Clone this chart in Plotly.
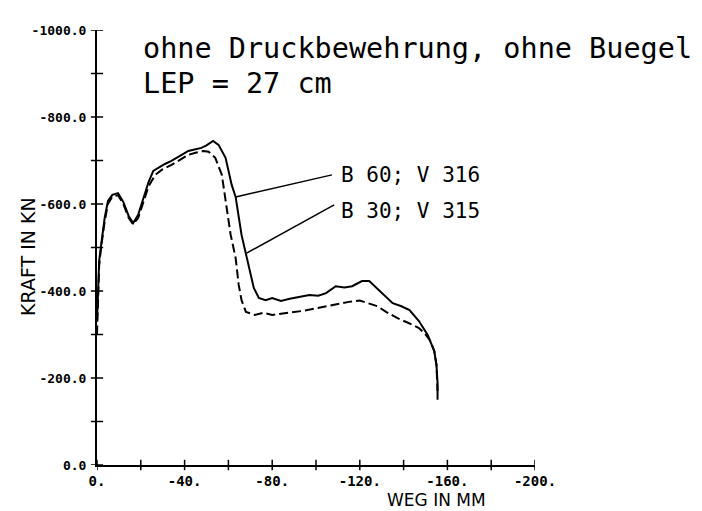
import plotly.graph_objects as go

# ---- data ----
solid_x = [0, -0.5, -1, -2, -3.5, -5, -7, -9.6, -12, -14.5, -16.5, -18.8, -21, -23.5, -25.7, -28, -31, -34, -38,
           -41.7, -45, -47.7, -50, -53, -55.5, -58.7, -61.5, -63.3, -66, -69.3, -71.6, -73.9, -77, -80, -84, -88,
           -92, -97, -101, -104.6, -109, -113, -116.5, -121, -124.3, -129, -135, -139, -142.7, -147, -151, -154,
           -155, -155.5, -155.5]
solid_y = [-330, -420, -470, -510, -568, -607, -621, -625, -605, -572, -556, -575, -610, -650, -676, -683, -692,
           -699, -712, -722, -726, -729, -735, -745, -736, -706, -644, -616, -529, -460, -407, -384, -379, -384,
           -377, -382, -386, -391, -389, -395, -411, -408, -411, -423, -423, -400, -372, -365, -356, -331, -299,
           -262, -230, -190, -150]

dash_x = [0, -0.5, -1, -2, -3.5, -5, -7, -9.6, -12, -14.5, -16.5, -18.8, -21, -23.5, -26.6, -30, -34, -38, -41.7,
          -45, -48.6, -51, -54, -57, -59.2, -61, -63.3, -64.7, -66, -68, -72, -76, -80, -85, -90, -95, -100, -105,
          -110, -115, -120, -124, -128, -132, -137, -142, -147, -150, -152, -154, -155, -155.5]
dash_y = [-300, -400, -460, -505, -560, -600, -617, -620, -600, -568, -553, -568, -600, -640, -667, -680, -690,
          -702, -713, -718, -722, -720, -706, -667, -591, -530, -476, -414, -379, -352, -345, -350, -345, -348,
          -352, -355, -360, -365, -370, -375, -378, -372, -365, -352, -338, -327, -315, -300, -287, -262, -230,
          -170]

x_tickvals = [0, -40, -80, -120, -160, -200]
x_ticktext = ["0.", "-40.", "-80.", "-120.", "-160.", "-200."]
x_minor = [0, -20, -40, -60, -80, -100, -120, -140, -160, -180, -200]
y_tickvals = [0, -200, -400, -600, -800, -1000]
y_ticktext = ["0.0", "-200.0", "-400.0", "-600.0", "-800.0", "-1000.0"]
y_minor = [0, -100, -200, -300, -400, -500, -600, -700, -800, -900, -1000]

labels = ["B 60; V 316", "B 30; V 315"]

MONO = "DejaVu Sans Mono"

fig = go.Figure()
fig.add_trace(go.Scatter(x=solid_x, y=solid_y, mode="lines", name=labels[0],
                         line=dict(color="black", width=2)))
fig.add_trace(go.Scatter(x=dash_x, y=dash_y, mode="lines", name=labels[1],
                         line=dict(color="black", width=2, dash="9px,4px")))

shapes = []
for v in x_minor:
    shapes.append(dict(type="line", xref="x", yref="paper", x0=v, x1=v, y0=-0.012, y1=0.012,
                       line=dict(color="black", width=1.5)))
for v in y_minor:
    shapes.append(dict(type="line", xref="paper", yref="y", x0=-0.014, x1=0.014, y0=v, y1=v,
                       line=dict(color="black", width=1.5)))
# leader lines
shapes.append(dict(type="line", xref="x", yref="y", x0=-63.3, y0=-616, x1=-107.3, y1=-667,
                   line=dict(color="black", width=1.5)))
shapes.append(dict(type="line", xref="x", yref="y", x0=-68.3, y0=-487, x1=-108.3, y1=-598,
                   line=dict(color="black", width=1.5)))

annotations = [
    dict(text=labels[0], x=-110.5, y=-667, xref="x", yref="y", xanchor="left", yanchor="middle",
         showarrow=False, font=dict(family=MONO, size=21, color="black")),
    dict(text=labels[1], x=-110.5, y=-584, xref="x", yref="y", xanchor="left", yanchor="middle",
         showarrow=False, font=dict(family=MONO, size=21, color="black")),
    dict(text="ohne Druckbewehrung, ohne Buegel", x=0.1, y=0.958, xref="paper", yref="paper",
         xanchor="left", yanchor="middle", showarrow=False, font=dict(family=MONO, size=28.5, color="black")),
    dict(text="LEP = 27 cm", x=0.1, y=0.878, xref="paper", yref="paper",
         xanchor="left", yanchor="middle", showarrow=False, font=dict(family=MONO, size=28.5, color="black")),
    dict(text="WEG IN MM", x=0.774, y=-0.108, xref="paper", yref="paper",
         xanchor="center", yanchor="bottom", showarrow=False,
         font=dict(family="DejaVu Sans", size=17, color="black")),
    dict(text="KRAFT IN KN", x=-0.158, y=0.48, xref="paper", yref="paper", textangle=-90,
         xanchor="center", yanchor="middle", showarrow=False,
         font=dict(family="DejaVu Sans", size=19, color="black")),
]

fig.update_layout(
    width=702, height=511,
    margin=dict(l=89, r=175, t=22, b=54),
    paper_bgcolor="white", plot_bgcolor="white",
    showlegend=False,
    shapes=shapes, annotations=annotations,
    xaxis=dict(range=[0, -200], showgrid=False, zeroline=False, showline=True, linecolor="black",
               linewidth=2, ticks="", tickvals=x_tickvals, ticktext=x_ticktext,
               tickfont=dict(family=MONO, size=14, color="black", weight="bold"), ticklabelstandoff=2),
    yaxis=dict(range=[0, -1000], showgrid=False, zeroline=False, showline=True, linecolor="black",
               linewidth=2, ticks="", tickvals=y_tickvals, ticktext=y_ticktext,
               tickfont=dict(family=MONO, size=13, color="black", weight="bold"), ticklabelstandoff=6),
)

fig.write_html("out.html")
